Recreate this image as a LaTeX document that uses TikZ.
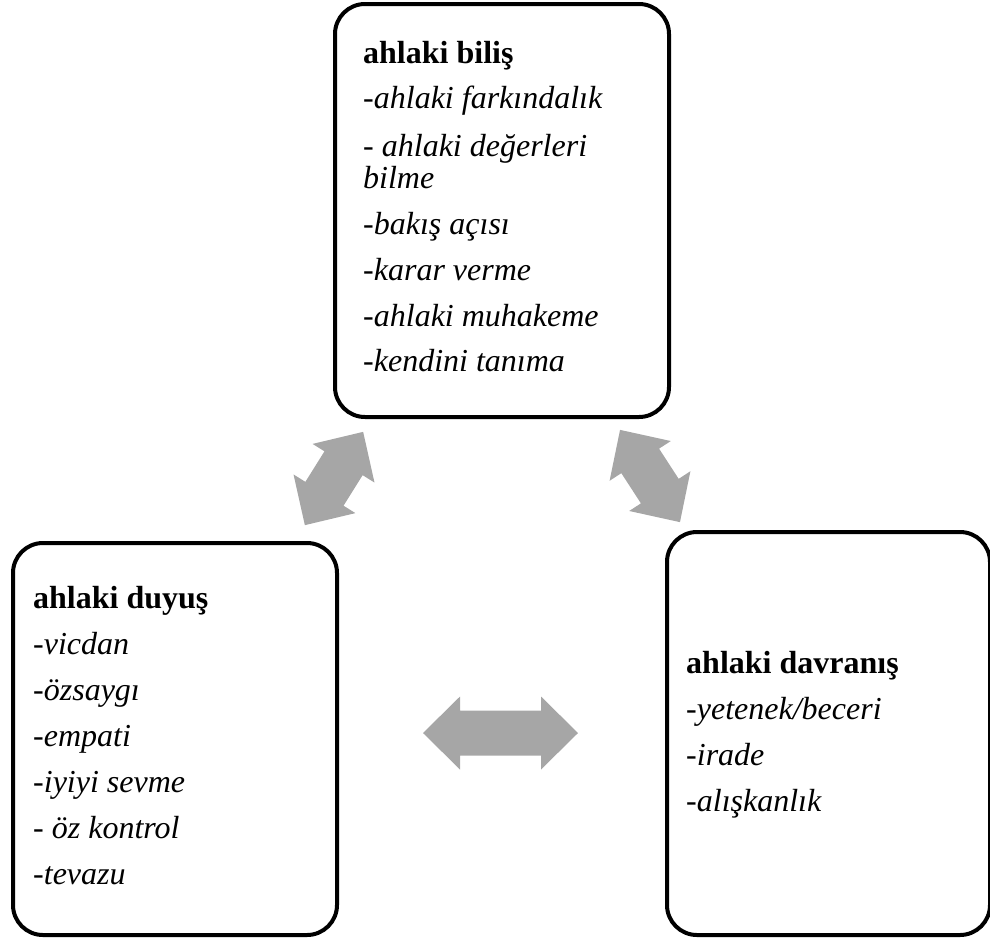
\documentclass[tikz,border=0pt]{standalone}
\usepackage{fontspec}
\setmainfont{Liberation Serif}
\definecolor{arrowgray}{RGB}{166,166,166}
\tikzset{
  box/.style={draw=black, line width=4pt, rounded corners=30pt, fill=white, inner sep=0pt, anchor=north west},
  txt/.style={anchor=base west, inner sep=0pt, font=\fontsize{32}{38}\selectfont},
  head/.style={txt, font=\fontsize{32}{38}\selectfont\bfseries},
  item/.style={txt, font=\fontsize{32}{38}\selectfont\itshape},
  blockarrow/.style={fill=arrowgray, draw=none}
}
\newcommand{\dblarrow}[4]{% name, center, angle, length
  \begin{scope}[shift={#2}, rotate=#3]
    \coordinate (#1) at (0,0);
    \fill[blockarrow] (-#4/2,0) -- (-#4/2+37,36.5) -- (-#4/2+37,22.5) -- (#4/2-37,22.5) -- (#4/2-37,36.5) -- (#4/2,0)
      -- (#4/2-37,-36.5) -- (#4/2-37,-22.5) -- (-#4/2+37,-22.5) -- (-#4/2+37,-36.5) -- cycle;
  \end{scope}}
\begin{document}
\begin{tikzpicture}[x=1pt, y=-1pt]
\useasboundingbox (0,0) rectangle (990,938);
% boxes
\node[box, minimum width=334pt, minimum height=413pt] (bilis) at (333,2) {};
\node[box, minimum width=324pt, minimum height=392pt] (duyus) at (11,541) {};
\node[box, minimum width=323pt, minimum height=403pt] (davranis) at (665,530) {};
% top box text
\node[head] (b0) at (363,63) {ahlaki biliş};
\node[item] (b1) at (363,108) {-ahlaki farkındalık};
\node[item] (b2) at (363,156) {- ahlaki değerleri};
\node[item] (b3) at (363,188) {bilme};
\node[item] (b4) at (363,234) {-bakış açısı};
\node[item] (b5) at (363,280) {-karar verme};
\node[item] (b6) at (363,326) {-ahlaki muhakeme};
\node[item] (b7) at (363,371) {-kendini tanıma};
% left box text
\node[head] (d0) at (33,608) {ahlaki duyuş};
\node[item] (d1) at (33,654) {-vicdan};
\node[item] (d2) at (33,700) {-özsaygı};
\node[item] (d3) at (33,746) {-empati};
\node[item] (d4) at (33,792) {-iyiyi sevme};
\node[item] (d5) at (33,838) {- öz kontrol};
\node[item] (d6) at (33,884) {-tevazu};
% right box text
\node[head] (v0) at (686,673) {ahlaki davranış};
\node[item] (v1) at (686,719) {-yetenek/beceri};
\node[item] (v2) at (686,765) {-irade};
\node[item] (v3) at (686,811) {-alışkanlık};
% block arrows
\dblarrow{a1}{(334,478.5)}{58}{110}
\dblarrow{a2}{(650,476)}{-57}{110}
\dblarrow{a3}{(500.5,733)}{0}{155}
\end{tikzpicture}
\end{document}
